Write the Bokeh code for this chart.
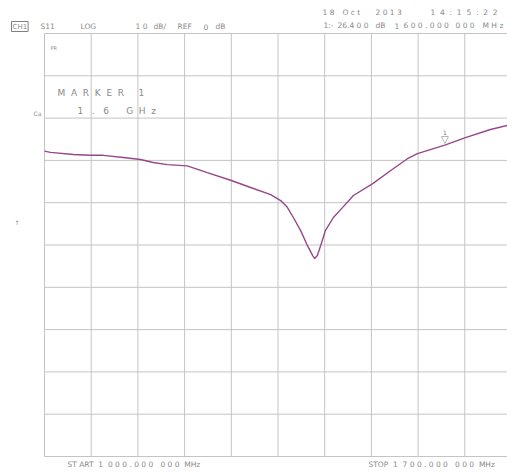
from bokeh.plotting import figure
from bokeh.models import Range1d, Label
from bokeh.embed import file_html
from bokeh.resources import INLINE

# ---- data ----
freq_mhz = [1000, 1009, 1043.5, 1069, 1088, 1118, 1144, 1163, 1184, 1214, 1244, 1279,
            1309, 1339, 1354, 1364, 1373, 1384, 1394, 1402, 1405, 1409, 1414, 1421,
            1433, 1447, 1463, 1492, 1519, 1544, 1559, 1600, 1631, 1668.5, 1694, 1700]
s11_db = [-27.8, -28.1, -28.6, -28.8, -28.8, -29.3, -29.8, -30.5, -31.0, -31.3, -32.9, -34.7,
          -36.4, -38.1, -39.5, -41.1, -43.5, -46.6, -50.1, -52.5, -53.2, -52.5, -50.1, -46.6,
          -43.5, -41.1, -38.3, -35.5, -32.4, -29.6, -28.4, -26.4, -24.6, -22.7, -21.7, -21.5]
start_mhz, stop_mhz = 1000, 1700
ref_db, db_per_div = 0, 10
x_ticks = [start_mhz + (stop_mhz - start_mhz) / 10 * i for i in range(11)]
y_ticks = [ref_db - db_per_div * i for i in range(11)]
marker_freq = 1600
marker_db = -26.4

TXT = "#8a8a8a"
FONT = "DejaVu Sans"
NB = "\u00a0"

# grid box geometry on the canvas (pixels)
GX0, GX1, GY0, GY1 = 44, 511, 33, 456
W, H = 507, 472


def fx(px):
    return start_mhz + (px - GX0) * (stop_mhz - start_mhz) / (GX1 - GX0)


def fy(py):
    return ref_db - (py - GY0) * (db_per_div * 10) / (GY1 - GY0)


p = figure(width=W, height=H, output_backend="svg", toolbar_location=None,
           x_range=Range1d(fx(0), fx(W)), y_range=Range1d(fy(H), fy(0)),
           min_border=0)
p.axis.visible = False
p.grid.visible = False
p.outline_line_color = None
p.background_fill_color = "white"
p.border_fill_color = "white"

GRID = "#c4c4c4"
p.segment(x0=x_ticks, x1=x_ticks, y0=[y_ticks[-1]] * len(x_ticks), y1=[y_ticks[0]] * len(x_ticks),
          line_color=GRID, line_width=1)
p.segment(x0=[start_mhz] * len(y_ticks), x1=[stop_mhz] * len(y_ticks), y0=y_ticks, y1=y_ticks,
          line_color=GRID, line_width=1)

p.line(freq_mhz, s11_db, line_color="#96478a", line_width=1.4)


def lab(px, py, text, size="7.5px", color=TXT, **kw):
    p.add_layout(Label(x=fx(px), y=fy(py), text=text.replace(" ", NB), text_font=FONT,
                       text_font_size=size, text_color=color, text_align="left",
                       text_baseline="middle", **kw))


# header, left
lab(11, 26, "CH1", size="7px", border_line_color="#808080", padding=1)
lab(40, 26, "S11")
lab(80, 26, "LOG")
lab(135, 26, "1 0")
lab(153, 26, "dB/")
lab(177, 26, "REF")
lab(203, 26, "0")
lab(215, 26, "dB")

# header, right
lab(322, 12, "1 8")
lab(342, 12, "O c t")
lab(375, 12, "2 0 1 3")
lab(430, 12, "1  4  :  1  5  :  2  2")
lab(323, 25, "1:-")
lab(337, 25, "26.4 0 0")
lab(375, 25, "dB")
lab(394, 25, "1")
lab(403, 25, "6 0 0 . 0 0 0")
lab(455, 25, "0 0 0")
lab(482, 25, "M H z")

# footer
lab(67, 464, "ST ART  1  0 0 0 . 0 0 0   0 0 0  MHz")
lab(368, 464, "STOP  1  7 0 0 . 0 0 0   0 0 0  MHz")

# side annotations
lab(50, 47, "PR", size="5px")
lab(33, 113, "Ca", size="6px")
lab(14, 222, "\u2191", size="6px")
lab(57, 92, "M  A  R  K  E  R     1", size="9px")
lab(77, 110, "1   .   6      G  H  z", size="9px")

# marker symbol
p.add_layout(Label(x=marker_freq, y=marker_db, text="\u25bd", text_font=FONT,
                   text_font_size="10px", text_color="#7a7a7a", text_align="center",
                   text_baseline="bottom"))
p.add_layout(Label(x=marker_freq, y=marker_db, text="1", text_font=FONT,
                   text_font_size="6px", text_color="#7a7a7a", text_align="center",
                   text_baseline="bottom", y_offset=10))

open("out.html", "w").write(file_html(p, INLINE))
